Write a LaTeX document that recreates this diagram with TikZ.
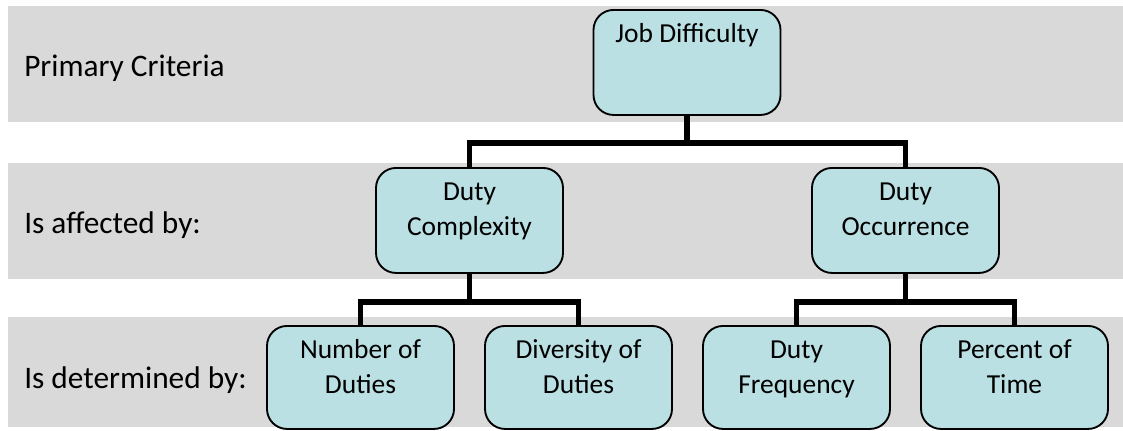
\documentclass[tikz,border=0pt]{standalone}
\usepackage{fontspec}
\setmainfont{Carlito}
\usetikzlibrary{positioning, calc}
\definecolor{BandGray}{HTML}{D9D9D9}
\definecolor{DutyBlue}{HTML}{BAE0E3}

\begin{document}
\begin{tikzpicture}[x=0.75pt, y=-0.75pt,
    band/.style={fill=BandGray, draw=none},
    rowlabel/.style={anchor=base west, inner sep=0pt, font=\fontsize{23.5pt}{28pt}\selectfont},
    duty/.style={draw=black, line width=1.4pt, fill=DutyBlue, rounded corners=15pt,
        anchor=north, align=center, minimum width=140.25pt, inner xsep=0pt, inner ysep=0pt,
        text height=24.75pt, text depth=54pt, font=\fontsize{20.6pt}{26.25pt}\selectfont},
    twoline/.style={text height=51pt, text depth=27.75pt},
    lowrow/.style={text height=51pt, text depth=26.25pt},
    link/.style={draw=black, line width=4.2pt}]
  \useasboundingbox (0,0) rectangle (1123,430);

  % Gray bands, one per level
  \fill[band] (8,6) rectangle (1123,122);
  \fill[band] (8,163) rectangle (1123,279);
  \fill[band] (8,317) rectangle (1123,427);

  % Row labels
  \node[rowlabel] (lblprimary) at (24,76) {Primary Criteria};
  \node[rowlabel] (lblaffected) at (24,233) {Is affected by:};
  \node[rowlabel] (lbldetermined) at (24,388) {Is determined by:};

  % Top level
  \node[duty] (job) at (687,9) {Job Difficulty};

  % Second level
  \node[duty, twoline] (cplx) at (469.5,167) {Duty\\Complexity};
  \node[duty, twoline] (occur) at (905.5,167) {Duty\\Occurrence};

  % Third level
  \node[duty, lowrow] (number) at (360.5,325) {Number of\\Duties};
  \node[duty, lowrow] (divers) at (578.5,325) {Diversity of\\Duties};
  \node[duty, lowrow] (freq) at (796.5,325) {Duty\\Frequency};
  \node[duty, lowrow] (pct) at (1014.5,325) {Percent of\\Time};

  % Elbow connectors
  \coordinate (jobsplit) at (687,143);
  \coordinate (cplxsplit) at (469.5,302);
  \coordinate (occursplit) at (905.5,302);
  \draw[link] (job.south) -- (jobsplit) -| (cplx.north);
  \draw[link] (jobsplit) -| (occur.north);
  \draw[link] (cplx.south) -- (cplxsplit) -| (number.north);
  \draw[link] (cplxsplit) -| (divers.north);
  \draw[link] (occur.south) -- (occursplit) -| (freq.north);
  \draw[link] (occursplit) -| (pct.north);
\end{tikzpicture}
\end{document}
